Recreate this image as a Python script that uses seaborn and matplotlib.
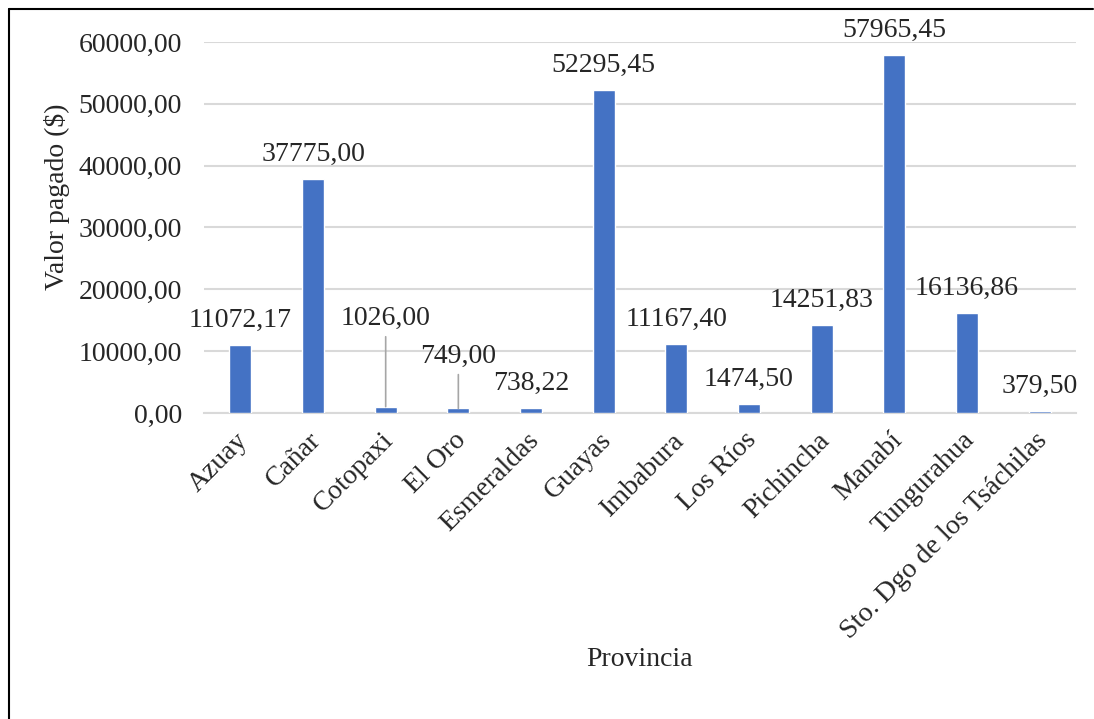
import matplotlib
matplotlib.use("Agg")
import matplotlib.pyplot as plt
import matplotlib.transforms as mtransforms
from matplotlib.lines import Line2D
import seaborn as sns
import pandas as pd

provincias = ["Azuay", "Cañar", "Cotopaxi", "El Oro", "Esmeraldas", "Guayas",
              "Imbabura", "Los Ríos", "Pichincha", "Manabí", "Tungurahua",
              "Sto. Dgo de los Tsáchilas"]
valores = [11072.17, 37775.00, 1026.00, 749.00, 738.22, 52295.45,
           11167.40, 1474.50, 14251.83, 57965.45, 16136.86, 379.50]
y_ticks = [0, 10000, 20000, 30000, 40000, 50000, 60000]

df = pd.DataFrame({"Provincia": provincias, "Valor": valores})

sns.set_theme(style="white")
plt.rcParams["font.family"] = ["Liberation Serif", "DejaVu Serif"]
FS = 20
plt.rcParams["font.size"] = FS

BAR = "#4472C4"
GRID = "#D9D9D9"
LEADER = "#A6A6A6"


def fmt(v):
    return f"{v:.2f}".replace(".", ",")


fig = plt.figure(figsize=(10.94, 7.19), dpi=100)
ax = fig.add_axes([0.1865, 0.4256, 0.797, 0.516])

sns.barplot(data=df, x="Provincia", y="Valor", color=BAR, width=0.30,
            saturation=1, ax=ax, zorder=3)

ax.set_ylim(0, 60000)
ax.set_xlim(-0.5, len(provincias) - 0.5)
ax.set_yticks(y_ticks)
ax.set_yticklabels([fmt(t) for t in y_ticks])
ax.yaxis.grid(True, color=GRID, linewidth=1.5, zorder=0)
ax.set_axisbelow(True)
for s in ["top", "right", "left"]:
    ax.spines[s].set_visible(False)
ax.spines["bottom"].set_color(GRID)
ax.spines["bottom"].set_linewidth(1.5)
ax.tick_params(axis="y", length=0, pad=16, labelsize=FS)
ax.tick_params(axis="x", length=0, pad=17, labelsize=FS)

# rotated category labels
offset = mtransforms.ScaledTranslation(4 / 100, 0, fig.dpi_scale_trans)
for lbl in ax.get_xticklabels():
    lbl.set_rotation(45)
    lbl.set_ha("right")
    lbl.set_va("center")
    lbl.set_rotation_mode("anchor")
    lbl.set_transform(lbl.get_transform() + offset)

ax.set_xlabel("Provincia", fontsize=FS, va="baseline")
ax.xaxis.set_label_coords(0.5, -0.682)
ax.set_ylabel("Valor pagado ($)", fontsize=FS)
ax.yaxis.set_label_coords(-0.1537, 0.582)

# value labels; two small bars get raised labels with leader lines
raised = {"Cotopaxi": 59, "El Oro": 33}
for i, (name, v) in enumerate(zip(provincias, valores)):
    if name in raised:
        ax.annotate(fmt(v), xy=(i, v), xytext=(0, raised[name]),
                    textcoords="offset points", ha="center", va="baseline",
                    fontsize=FS,
                    arrowprops=dict(arrowstyle="-", color=LEADER, lw=1.2,
                                    shrinkA=2, shrinkB=0))
    else:
        ax.annotate(fmt(v), xy=(i, v), xytext=(0, 13),
                    textcoords="offset points", ha="center", va="baseline",
                    fontsize=FS)

# frame lines along the top and left edge
fig.add_artist(Line2D([8.5 / 1094, 1093 / 1094], [1 - 8.5 / 719, 1 - 8.5 / 719],
                      transform=fig.transFigure, color="black", lw=1.5))
fig.add_artist(Line2D([9 / 1094, 9 / 1094], [0, 1 - 8.5 / 719],
                      transform=fig.transFigure, color="black", lw=1.5))

fig.savefig("out.png", dpi=100, facecolor="white")
